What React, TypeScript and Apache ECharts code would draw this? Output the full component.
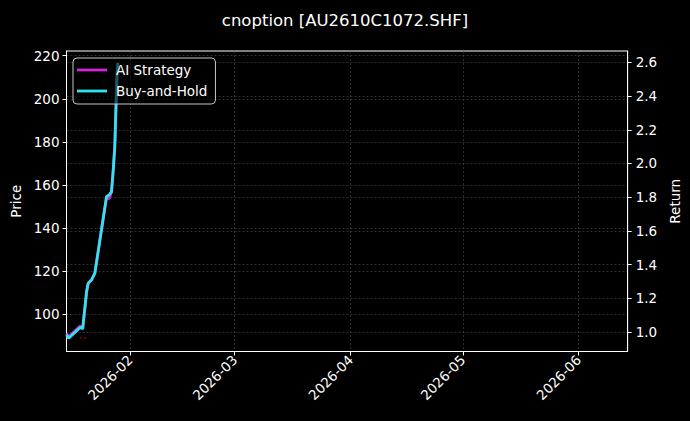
import React, { useEffect, useRef } from "react";
import * as echarts from "echarts";

// ---- data ----
const dates: string[] = [
  "2026-01-15 00:00", "2026-01-15 14:00", "2026-01-18 16:00", "2026-01-19 08:00",
  "2026-01-20 09:00", "2026-01-20 19:00", "2026-01-21 17:00", "2026-01-22 14:00",
  "2026-01-25 17:00", "2026-01-26 10:00", "2026-01-27 01:00", "2026-01-27 12:00",
  "2026-01-27 22:00", "2026-01-28 05:00", "2026-01-28 13:00", "2026-01-28 17:30",
];
const aiStrategy: number[] = [
  0.992, 0.974, 1.036, 1.022, 1.236, 1.288, 1.31, 1.348,
  1.8, 1.79, 1.83, 1.96, 2.098, 2.316, 2.535, 2.594,
];
const buyAndHold: number[] = [
  0.984, 0.964, 1.027, 1.02, 1.241, 1.29, 1.31, 1.35,
  1.804, 1.814, 1.833, 1.962, 2.1, 2.318, 2.537, 2.596,
];
const signalDates: string[] = ["2026-01-18 19:00", "2026-01-19 22:00"];
const signalPrices: number[] = [89.1, 88.9];

const priceTicks: number[] = [100, 120, 140, 160, 180, 200, 220];
const returnTicks: number[] = [1.0, 1.2, 1.4, 1.6, 1.8, 2.0, 2.2, 2.4, 2.6];
const monthTicks: string[] = ["2026-02-01 00:00", "2026-03-01 00:00", "2026-04-01 00:00", "2026-05-01 00:00", "2026-06-01 00:00"];

const title = "cnoption [AU2610C1072.SHF]";

function ts(s: string): number {
  const [d, t] = s.split(" ");
  const [y, m, day] = d.split("-").map(Number);
  const [h, mi] = (t || "00:00").split(":").map(Number);
  return new Date(y, m - 1, day, h, mi).getTime();
}

const FONT = "DejaVu Sans";
const FS = 13.5;

export default function App() {
  const ref = useRef<HTMLDivElement>(null);
  useEffect(() => {
    if (!ref.current) return;
    const chart = echarts.init(ref.current, undefined, { renderer: "svg" });
    const xMin = ts("2026-01-15 00:00");
    const xMax = xMin + 150.1 * 86400000;
    const monthTs = monthTicks.map(ts);
    const gridLine = { show: true, lineStyle: { color: "#4a4a4a", width: 0.6, type: [2, 2] as any } };
    chart.setOption({
      animation: false,
      backgroundColor: "#000",
      textStyle: { fontFamily: FONT },
      title: {
        text: title,
        left: "center",
        top: 7,
        textStyle: { color: "#fff", fontSize: 16.5, fontWeight: "normal", fontFamily: FONT },
      },
      legend: {
        orient: "vertical",
        left: 73,
        top: 58,
        padding: [4, 8, 5, 4],
        itemWidth: 30,
        itemHeight: 2.8,
        itemGap: 5,
        backgroundColor: "rgba(0,0,0,0.6)",
        borderColor: "#c8c8c8",
        borderWidth: 1,
        borderRadius: 4,
        textStyle: { color: "#fff", fontSize: FS, fontFamily: FONT, padding: [0, 0, 0, 4], lineHeight: 16 },
        data: [
          { name: "AI Strategy", icon: "rect" },
          { name: "Buy-and-Hold", icon: "rect" },
        ],
      },
      grid: {
        left: 66.5,
        right: 61,
        top: 51,
        bottom: 69.5,
        show: true,
        borderColor: "#fff",
        borderWidth: 1,
        backgroundColor: "transparent",
      },
      xAxis: {
        type: "value",
        min: xMin,
        max: xMax,
        axisLine: { show: true, lineStyle: { color: "#fff", width: 1 } },
        axisTick: { show: true, length: 4, lineStyle: { color: "#fff" }, customValues: monthTs },
        axisLabel: {
          color: "#fff",
          fontSize: FS,
          fontFamily: FONT,
          rotate: 45,
          margin: 6,
          customValues: monthTs,
          formatter: (v: number) => {
            const d = new Date(v);
            return d.getFullYear() + "-" + String(d.getMonth() + 1).padStart(2, "0");
          },
        },
        splitLine: gridLine,
      },
      yAxis: [
        {
          type: "value",
          position: "left",
          min: 82.6,
          max: 222.2,
          name: "Price",
          nameLocation: "middle",
          nameGap: 42,
          nameTextStyle: { color: "#fff", fontSize: FS, fontFamily: FONT },
          axisLine: { show: true, lineStyle: { color: "#fff" } },
          axisTick: { show: true, length: 4, lineStyle: { color: "#fff" }, customValues: priceTicks },
          axisLabel: {
            color: "#fff",
            fontSize: FS,
            fontFamily: FONT,
            margin: 7,
            customValues: priceTicks,
            formatter: (v: number) => String(Math.round(v)),
          },
          splitLine: gridLine,
        },
        {
          type: "value",
          position: "right",
          min: 0.885,
          max: 2.667,
          name: "Return",
          nameLocation: "middle",
          nameGap: 37,
          nameTextStyle: { color: "#fff", fontSize: FS, fontFamily: FONT },
          axisLine: { show: true, lineStyle: { color: "#fff" } },
          axisTick: { show: true, length: 4, lineStyle: { color: "#fff" }, customValues: returnTicks },
          axisLabel: {
            color: "#fff",
            fontSize: FS,
            fontFamily: FONT,
            margin: 8,
            customValues: returnTicks,
            formatter: (v: number) => v.toFixed(1),
          },
          splitLine: gridLine,
        },
      ],
      series: [
        {
          name: "AI Strategy",
          type: "line",
          yAxisIndex: 1,
          symbol: "none",
          data: dates.map((d, i) => [ts(d), aiStrategy[i]]),
          lineStyle: { color: "#d424d8", width: 2.8 },
          itemStyle: { color: "#d424d8" },
        },
        {
          name: "Buy-and-Hold",
          type: "line",
          yAxisIndex: 1,
          symbol: "none",
          data: dates.map((d, i) => [ts(d), buyAndHold[i]]),
          lineStyle: { color: "#30e4ee", width: 2.8 },
          itemStyle: { color: "#30e4ee" },
        },
        {
          name: "Signals",
          type: "scatter",
          yAxisIndex: 0,
          symbolSize: 2.5,
          data: signalDates.map((d, i) => [ts(d), signalPrices[i]]),
          itemStyle: { color: "#7a0000" },
        },
      ],
    });
    return () => chart.dispose();
  }, []);
  return (
    <div
      ref={ref}
      style={{ position: "fixed", left: 0, top: 0, width: 690, height: 421 }}
    />
  );
}
